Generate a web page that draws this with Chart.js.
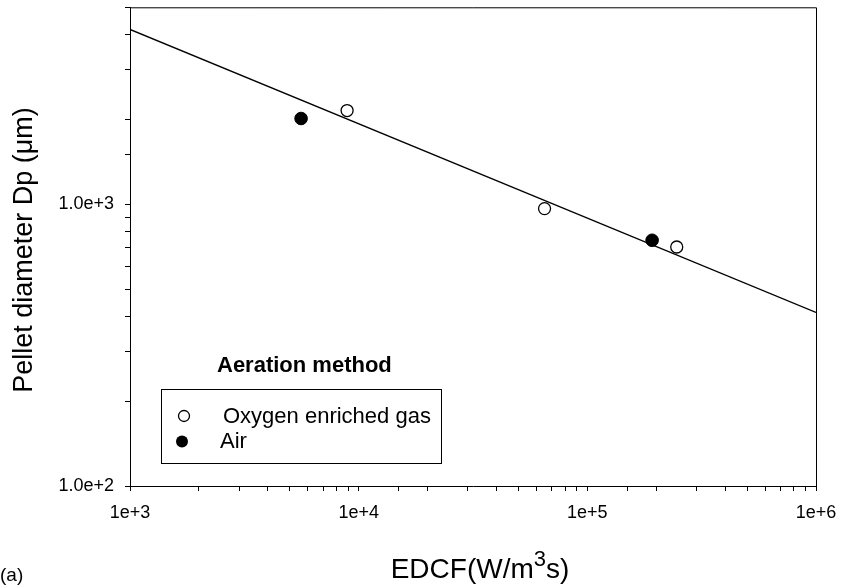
<!DOCTYPE html>
<html>
<head>
<meta charset="utf-8">
<script src="https://cdn.jsdelivr.net/npm/chart.js@4.4.1/dist/chart.umd.min.js"></script>
<style>
  html, body { margin: 0; padding: 0; background: #ffffff; }
  #wrap { width: 841px; height: 585px; }
</style>
</head>
<body>
<div id="wrap"><canvas id="c" width="841" height="585"></canvas></div>
<script>
// Energy dissipation / circulation function (W/m^3 s) vs pellet diameter (um)
const oxygenEdcf = [8.9e3, 6.5e4, 2.46e5];
const oxygenDp   = [2150, 965, 705];
const airEdcf    = [5.6e3, 1.92e5];
const airDp      = [2015, 745];
// Fitted power-law line, end points at the axis limits
const fitEdcf    = [1e3, 1e6];
const fitDp      = [4170, 413];

const xTickValues = [1e3, 1e4, 1e5, 1e6];
const xTickLabels = ['1e+3', '1e+4', '1e+5', '1e+6'];
const yTickValues = [1e2, 1e3];
const yTickLabels = ['1.0e+2', '1.0e+3'];

const legendTitle = 'Aeration method';
const seriesNames = ['Oxygen enriched gas', 'Air'];

const FONT = '"Liberation Sans", Arial, Helvetica, sans-serif';

function pairs(xs, ys) { return xs.map((x, i) => ({ x: x, y: ys[i] })); }

function labelFor(values, labels) {
  return function (v) {
    for (let i = 0; i < values.length; i++) {
      if (Math.abs(v - values[i]) / values[i] < 1e-9) return labels[i];
    }
    return '';
  };
}

// Frame, legend box and titles drawn on top of the chart
const decorations = {
  id: 'decorations',
  afterDraw(chart) {
    const ctx = chart.ctx;
    const a = chart.chartArea;
    ctx.save();
    ctx.strokeStyle = '#000';
    ctx.lineWidth = 1;
    ctx.beginPath();
    ctx.moveTo(a.left, a.top + 0.5);
    ctx.lineTo(a.right + 0.5, a.top + 0.5);
    ctx.lineTo(a.right + 0.5, a.bottom);
    ctx.stroke();

    // legend
    ctx.fillStyle = '#000';
    ctx.textBaseline = 'middle';
    ctx.textAlign = 'left';
    ctx.font = 'bold 22px ' + FONT;
    ctx.fillText(legendTitle, 217, 366);
    ctx.strokeRect(161.5, 389.5, 280, 74);
    ctx.font = '22px ' + FONT;
    ctx.beginPath();
    ctx.arc(184, 416, 5.5, 0, Math.PI * 2);
    ctx.fillStyle = '#fff';
    ctx.fill();
    ctx.lineWidth = 1.3;
    ctx.stroke();
    ctx.fillStyle = '#000';
    ctx.fillText(seriesNames[0], 223, 417);
    ctx.beginPath();
    ctx.arc(182, 441.5, 6, 0, Math.PI * 2);
    ctx.fill();
    ctx.fillText(seriesNames[1], 220, 442);

    // x axis title with superscript
    ctx.textBaseline = 'alphabetic';
    const big = '28px ' + FONT, sup = '22px ' + FONT;
    const parts = [['EDCF(W/m', big, 0], ['3', sup, -12], ['s)', big, 0]];
    let total = 0;
    parts.forEach(p => { ctx.font = p[1]; total += ctx.measureText(p[0]).width; });
    let x = 480 - total / 2;
    parts.forEach(p => {
      ctx.font = p[1];
      ctx.fillText(p[0], x, 578 + p[2]);
      x += ctx.measureText(p[0]).width;
    });

    // y axis title
    ctx.save();
    ctx.translate(32, 250);
    ctx.rotate(-Math.PI / 2);
    ctx.textAlign = 'center';
    ctx.font = '27px ' + FONT;
    ctx.fillText('Pellet diameter Dp (\u03bcm)', 0, 0);
    ctx.restore();

    // panel tag
    ctx.font = '19px ' + FONT;
    ctx.textAlign = 'left';
    ctx.fillText('(a)', 0, 581);
    ctx.restore();
  }
};

new Chart(document.getElementById('c'), {
  type: 'scatter',
  data: {
    datasets: [
      {
        type: 'line',
        label: 'fit',
        data: pairs(fitEdcf, fitDp),
        borderColor: '#000',
        borderWidth: 1.4,
        pointRadius: 0,
        fill: false,
        order: 3
      },
      {
        label: seriesNames[0],
        data: pairs(oxygenEdcf, oxygenDp),
        pointRadius: 6,
        pointBackgroundColor: '#fff',
        pointBorderColor: '#000',
        pointBorderWidth: 1.3,
        order: 1
      },
      {
        label: seriesNames[1],
        data: pairs(airEdcf, airDp),
        pointRadius: 6.3,
        pointBackgroundColor: '#000',
        pointBorderColor: '#000',
        pointBorderWidth: 1,
        order: 2
      }
    ]
  },
  options: {
    responsive: false,
    animation: false,
    devicePixelRatio: 1,
    layout: { padding: { left: 0, top: 7, right: 25, bottom: 0 } },
    plugins: { legend: { display: false }, tooltip: { enabled: false } },
    scales: {
      x: {
        type: 'logarithmic',
        min: 1e3,
        max: 1e6,
        afterFit(scale) {
          scale.height = 99;
          scale.paddingLeft = 0;
          scale.paddingRight = 0;
        },
        grid: { drawOnChartArea: false, drawTicks: true, tickLength: 5, color: '#000' },
        border: { display: true, color: '#000', width: 1 },
        ticks: {
          autoSkip: false,
          maxRotation: 0,
          padding: 11,
          color: '#000',
          font: { family: FONT, size: 18 },
          callback: labelFor(xTickValues, xTickLabels)
        }
      },
      y: {
        type: 'logarithmic',
        min: 1e2,
        max: 5e3,
        afterFit(scale) {
          scale.width = 130;
          scale.paddingTop = 0;
          scale.paddingBottom = 0;
        },
        grid: { drawOnChartArea: false, drawTicks: true, tickLength: 5, color: '#000' },
        border: { display: true, color: '#000', width: 1 },
        ticks: {
          autoSkip: false,
          padding: 11,
          color: '#000',
          font: { family: FONT, size: 18 },
          callback: labelFor(yTickValues, yTickLabels)
        }
      }
    }
  },
  plugins: [decorations]
});
</script>
</body>
</html>
